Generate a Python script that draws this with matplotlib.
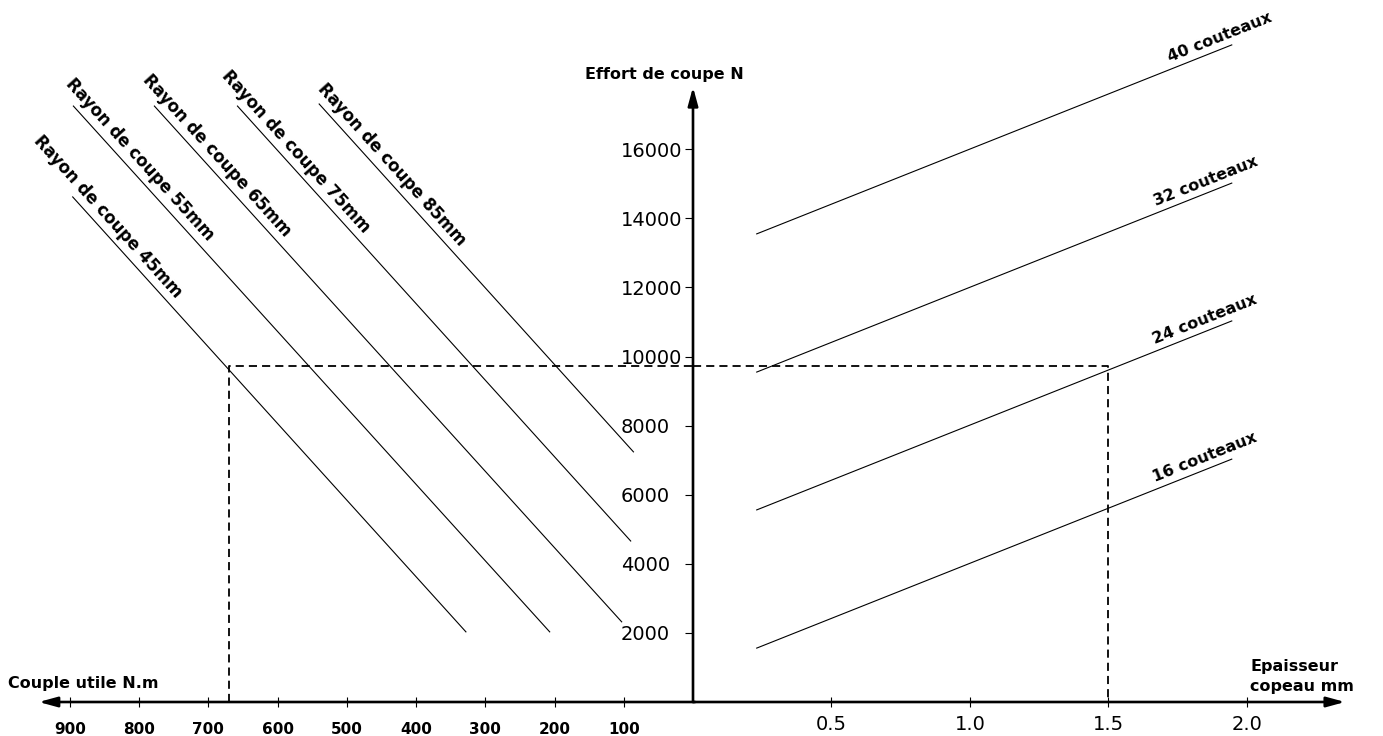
import numpy as np
import matplotlib.pyplot as plt

# Abaque : effort de coupe / couple utile / epaisseur copeau
couple_ticks = [900, 800, 700, 600, 500, 400, 300, 200, 100]
epaisseur_ticks = [0.5, 1.0, 1.5, 2.0]
effort_ticks = [2000, 4000, 6000, 8000, 10000, 12000, 14000, 16000]

# droites "Rayon de coupe" (couple N.m, effort N)
rayons = [45, 55, 65, 75, 85]
rayon_couple_debut = [896, 895, 778, 658, 540]
rayon_effort_debut = [14620, 17250, 17250, 17250, 17310]
rayon_couple_fin = [328, 207, 103, 90, 86]
rayon_effort_fin = [2030, 2030, 2320, 4660, 7240]

# droites "couteaux" (epaisseur mm, effort N)
couteaux = [16, 24, 32, 40]
couteaux_ep_debut = [0.23, 0.23, 0.23, 0.23]
couteaux_ep_fin = [1.945, 1.945, 1.945, 1.945]
couteaux_effort_debut = [1560, 5560, 9550, 13550]
couteaux_effort_fin = [7030, 11030, 15020, 19020]

# exemple de lecture (pointilles)
ex_couple = 670
ex_effort = 9730
ex_epaisseur = 1.5

# bornes des axes
couple_max, ep_max, effort_max = 1001, 2.491, 20320
couple_fleche, ep_fleche, effort_fleche = 945, 2.354, 17800

W, H = 1383, 736
fig = plt.figure(figsize=(W / 100, H / 100), dpi=100)
x0 = 693 / W
y0 = 34 / H
axL = fig.add_axes([0, y0, x0, 1 - y0])
axR = fig.add_axes([x0, y0, 1 - x0, 1 - y0])
axL.set_xlim(couple_max, 0)
axR.set_xlim(0, ep_max)
for ax in (axL, axR):
    ax.set_ylim(0, effort_max)
    ax.patch.set_visible(False)
    for s in ax.spines.values():
        s.set_visible(False)

# graduations
axL.set_xticks(couple_ticks)
axL.set_yticks([])
axL.tick_params(axis='x', direction='inout', length=7.2, width=0.8, pad=10.5, labelsize=11)
for lab in axL.get_xticklabels():
    lab.set_fontweight('bold')

axR.set_xticks(epaisseur_ticks, [f'{v:.1f}' for v in epaisseur_ticks])
axR.tick_params(axis='x', direction='inout', length=7.2, width=0.8, pad=5.8, labelsize=14)
axR.set_yticks(effort_ticks)
axR.tick_params(axis='y', direction='out', length=5.8, width=0.8, pad=46, labelsize=14)
for lab in axR.get_yticklabels():
    lab.set_ha('left')

# axes avec fleches
arrow = dict(arrowstyle='-|>,head_length=1.1,head_width=0.3', lw=1.9, color='black',
             mutation_scale=10, shrinkA=0, shrinkB=0)
axL.annotate('', xy=(couple_fleche, 0), xytext=(-3, 0), arrowprops=arrow, annotation_clip=False)
axR.annotate('', xy=(ep_fleche, 0), xytext=(0, 0), arrowprops=arrow, annotation_clip=False)
axR.annotate('', xy=(0, effort_fleche), xytext=(0, 0), arrowprops=arrow, annotation_clip=False)


def unit(ax, p0, p1):
    a = ax.transData.transform(p0)
    b = ax.transData.transform(p1)
    d = b - a
    return d / np.hypot(*d)


txt = dict(fontweight='bold', rotation_mode='anchor', ha='left',
           va='baseline', textcoords='offset pixels', annotation_clip=False)

# rayons de coupe
recul_rayon = [68, 22, 27, 33, 12]
for r, c0, f0, c1, f1, d in zip(rayons, rayon_couple_debut, rayon_effort_debut,
                                rayon_couple_fin, rayon_effort_fin, recul_rayon):
    axL.plot([c0, c1], [f0, f1], color='black', lw=0.8, clip_on=False)
    u = unit(axL, (c0, f0), (c1, f1))
    n = np.array([-u[1], u[0]])
    off = -d * u + 8 * n
    ang = np.degrees(np.arctan2(u[1], u[0]))
    axL.annotate(f'Rayon de coupe {r}mm', xy=(c0, f0), xytext=tuple(off), rotation=ang,
                 fontsize=12, **txt)

# couteaux
recul_cout = [80, 80, 79, 64]
for k, h0, h1, f0, f1, d in zip(couteaux, couteaux_ep_debut, couteaux_ep_fin,
                                couteaux_effort_debut, couteaux_effort_fin, recul_cout):
    axR.plot([h0, h1], [f0, f1], color='black', lw=0.8, clip_on=False)
    u = unit(axR, (h0, f0), (h1, f1))
    n = np.array([-u[1], u[0]])
    off = -d * u + 7 * n
    ang = np.degrees(np.arctan2(u[1], u[0]))
    axR.annotate(f'{k} couteaux', xy=(h1, f1), xytext=tuple(off), rotation=ang,
                 fontsize=11.5, **txt)

# lecture en pointilles
dash = dict(color='black', lw=1.3, dashes=(4.5, 2.8), clip_on=False)
axL.plot([ex_couple, ex_couple, 0], [0, ex_effort, ex_effort], **dash)
axR.plot([0, ex_epaisseur, ex_epaisseur], [ex_effort, ex_effort, 0], **dash)

# titres des axes
fig.text(8 / W, 1 - 688 / H, 'Couple utile N.m', fontsize=11.5, fontweight='bold', va='baseline')
fig.text(585 / W, 1 - 75 / H, 'Effort de coupe N', fontsize=11.5, fontweight='bold', va='center')
fig.text(1250 / W, 1 - 667 / H, 'Epaisseur', fontsize=11.5, fontweight='bold', va='center')
fig.text(1250 / W, 1 - 686 / H, 'copeau mm', fontsize=11.5, fontweight='bold', va='center')

fig.savefig('out.png', dpi=100)
